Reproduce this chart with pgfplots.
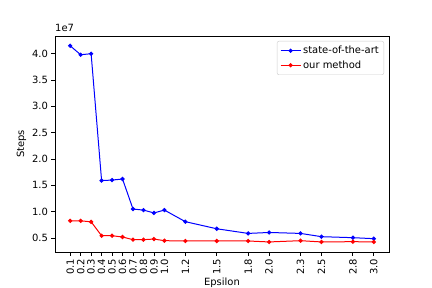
\documentclass[border=0pt]{standalone}
\usepackage{pgfplots}
\pgfplotsset{compat=1.18}
\usepackage{fontspec}
\setmainfont{DejaVu Sans}
\begin{document}
\fontsize{10}{12}\selectfont
\begin{tikzpicture}
\path[use as bounding box] (-55bp,-36bp) rectangle (377bp,252bp);
\begin{axis}[
  name=main,
  at={(0,0)}, anchor=south west,
  scale only axis, width=334bp, height=216bp,
  xmin=-0.045, xmax=3.145, ymin=0.234, ymax=4.336,
  axis line style={line width=0.8bp},
  tick align=outside, xtick pos=bottom, ytick pos=left,
  major tick length=3.5bp,
  every tick/.style={black, line width=0.8bp},
  xtick={0.1,0.2,0.3,0.4,0.5,0.6,0.7,0.8,0.9,1.0,1.2,1.5,1.8,2.0,2.3,2.5,2.8,3.0},
  ytick={0.5,1.0,1.5,2.0,2.5,3.0,3.5,4.0},
  x tick label style={rotate=90, anchor=east, /pgf/number format/fixed, /pgf/number format/fixed zerofill, /pgf/number format/precision=1},
  y tick label style={/pgf/number format/fixed, /pgf/number format/fixed zerofill, /pgf/number format/precision=1},
  /pgf/number format/assume math mode=true,
  scaled x ticks=false, scaled y ticks=false,
  xlabel={Epsilon}, ylabel={Steps},
  xlabel style={at={(axis description cs:0.5,-0.118)}, anchor=north, inner sep=0pt},
  ylabel style={at={(axis description cs:-0.086,0.5)}, anchor=south, inner sep=0pt},
  legend style={draw=black!20, rounded corners=2bp, at={(1,1)}, xshift=-5bp, yshift=-5bp, anchor=north east, font=\fontsize{10}{12}\selectfont, row sep=1.5bp, inner sep=3bp},
  legend cell align=left,
  legend image code/.code={\draw[#1, mark repeat=2, mark phase=2] plot coordinates {(0bp,0bp) (10bp,0bp) (20bp,0bp)};},
]
\addplot[blue, line width=1bp, mark=*, mark size=1.6bp] coordinates {
(0.1,4.150) (0.2,3.980) (0.3,4.000) (0.4,1.590) (0.5,1.600) (0.6,1.620)
(0.7,1.050) (0.8,1.030) (0.9,0.976) (1.0,1.030) (1.2,0.810) (1.5,0.675)
(1.8,0.587) (2.0,0.605) (2.3,0.587) (2.5,0.525) (2.8,0.506) (3.0,0.487)};
\addlegendentry{state-of-the-art}
\addplot[red, line width=1bp, mark=*, mark size=1.6bp] coordinates {
(0.1,0.826) (0.2,0.826) (0.3,0.807) (0.4,0.543) (0.5,0.543) (0.6,0.519)
(0.7,0.468) (0.8,0.468) (0.9,0.480) (1.0,0.449) (1.2,0.443) (1.5,0.443)
(1.8,0.443) (2.0,0.425) (2.3,0.449) (2.5,0.425) (2.8,0.430) (3.0,0.425)};
\addlegendentry{our method}
\end{axis}
\node[anchor=south west, inner sep=0pt] at ([yshift=4bp]main.north west) {1e7};
\end{tikzpicture}
\end{document}
